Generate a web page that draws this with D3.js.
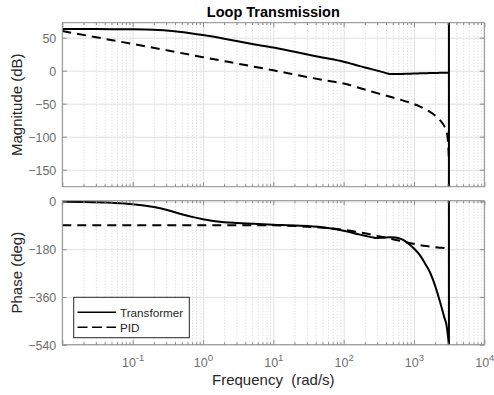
<!DOCTYPE html>
<html><head><meta charset="utf-8">
<script src="https://cdn.jsdelivr.net/npm/d3@7"></script>
<style>
body{margin:0;background:#fff}
text{font-family:"Liberation Sans",Arial,Helvetica,sans-serif}
</style>
</head><body>
<svg id="c" width="494" height="395"></svg>
<script>
// ---- data ----
const nyquist = 3141.6;
const tfFreq  = [0.01,0.02,0.05,0.1,0.2,0.3,0.5,0.7,1,2,3,5,10,20,50,100,170,200,265,300,350,450,550,650,785,1000,1220,1500,1680,2000,2345,2700,2900,3141.6];
const tfMag   = [63,63,62.9,62.7,62,61,58.5,56.5,54,48.5,45,40.5,35,28.6,20,13.5,6.9,4.9,1.6,0.1,-1.8,-4.9,-5.2,-5,-4.7,-4.3,-4,-3.8,-3.7,-3.5,-3.3,-3.1,-3,-3];
const tfPhase = [-1,-2,-5,-10,-21,-31,-48,-58,-67,-78,-81,-84,-87.6,-90.5,-97,-110,-125,-129,-136,-137.5,-137,-135,-136,-141,-153,-177,-203,-242,-266,-318,-378,-437,-466,-540];
const pidFreq  = [0.01,0.1,1,10,30,50,100,200,300,500,880,1200,1515,2000,2344,2700,2900,3050,3141.6];
const pidMag   = [60,40.5,20.5,0.5,-9.5,-14,-19.5,-28.6,-34,-40.7,-48.5,-54,-59.5,-68,-75,-84,-92,-108,-135];
const pidPhase = [-90,-90,-90,-90,-95,-99,-107,-120,-130,-142,-157,-164,-168,-172,-174,-175.5,-176.5,-177.5,-178];
const series = ["Transformer","PID"];
const magTicks = [-150,-100,-50,0,50];
const phaseTicks = [-540,-360,-180,0];
const freqLabelTicks = [0.1,1,10,100,1000,10000];

// ---- layout ----
const svg = d3.select("#c");
svg.append("rect").attr("width",494).attr("height",395).attr("fill","#fff");
const L = 62.3, R = 484.3;
const x = d3.scaleLog().domain([0.01,1e4]).range([L,R]);
const majors = [0.01,0.1,1,10,100,1000,10000];
const minors = [];
for (let d=-2; d<4; d++) for (let k=2;k<10;k++) minors.push(k*Math.pow(10,d));

const panels = [
  {y0:22.7, y1:186.7, domain:[-175.8,72.7], ticks:magTicks, data:[tfMag,pidMag], freqs:[tfFreq,pidFreq], label:"Magnitude (dB)"},
  {y0:200.7, y1:344.7, domain:[-540,3], ticks:phaseTicks, data:[tfPhase,pidPhase], freqs:[tfFreq,pidFreq], label:"Phase (deg)"}
];

const tickCol = "#8c8c8c", labCol = "#6e6e6e";
const FONT = '"Liberation Sans",Arial,sans-serif';

panels.forEach((p,i)=>{
  const y = d3.scaleLinear().domain(p.domain).range([p.y1,p.y0]);
  const h = p.y1-p.y0;
  const g = svg.append("g");
  const clipId = "clip"+i;
  svg.append("clipPath").attr("id",clipId).append("rect")
     .attr("x",L).attr("y",p.y0).attr("width",R-L).attr("height",h);

  g.append("g").attr("transform",`translate(0,${p.y1})`)
    .call(d3.axisBottom(x).tickValues(minors).tickSize(-h).tickFormat(""))
    .call(s=>{s.select(".domain").remove(); s.selectAll("line").attr("stroke","#c8c8c8").attr("stroke-dasharray","1,2").attr("stroke-width",0.8);});
  g.append("g").attr("transform",`translate(0,${p.y1})`)
    .call(d3.axisBottom(x).tickValues(majors).tickSize(-h).tickFormat(""))
    .call(s=>{s.select(".domain").remove(); s.selectAll("line").attr("stroke","#e0e0e0");});
  g.append("g").attr("transform",`translate(${L},0)`)
    .call(d3.axisLeft(y).tickValues(p.ticks).tickSize(-(R-L)).tickFormat(""))
    .call(s=>{s.select(".domain").remove(); s.selectAll("line").attr("stroke","#e0e0e0");});

  const line = d3.line().curve(d3.curveMonotoneX);
  p.data.forEach((vals,k)=>{
    const pts = vals.map((v,j)=>[x(p.freqs[k][j]), y(v)]);
    g.append("path").attr("d",line(pts)).attr("fill","none")
      .attr("stroke","#000").attr("stroke-width",2)
      .attr("stroke-dasharray", k===1 ? "9,6" : null)
      .attr("clip-path",`url(#${clipId})`);
  });

  g.append("line").attr("x1",x(nyquist)).attr("x2",x(nyquist))
    .attr("y1",p.y0).attr("y2",p.y1).attr("stroke","#000").attr("stroke-width",2);

  const styleTicks = s=>{s.select(".domain").remove(); s.selectAll("line").attr("stroke",tickCol);};
  g.append("g").attr("transform",`translate(0,${p.y1})`)
    .call(d3.axisBottom(x).tickValues(minors).tickSize(-2.5).tickFormat("")).call(styleTicks);
  g.append("g").attr("transform",`translate(0,${p.y1})`)
    .call(d3.axisBottom(x).tickValues(majors).tickSize(-4.5).tickFormat("")).call(styleTicks);
  g.append("g").attr("transform",`translate(0,${p.y0})`)
    .call(d3.axisTop(x).tickValues(minors).tickSize(-2.5).tickFormat("")).call(styleTicks);
  g.append("g").attr("transform",`translate(0,${p.y0})`)
    .call(d3.axisTop(x).tickValues(majors).tickSize(-4.5).tickFormat("")).call(styleTicks);
  g.append("g").attr("transform",`translate(${R},0)`)
    .call(d3.axisRight(y).tickValues(p.ticks).tickSize(-4.5).tickFormat("")).call(styleTicks);
  g.append("g").attr("transform",`translate(${L},0)`)
    .call(d3.axisLeft(y).tickValues(p.ticks).tickSizeInner(-4.5).tickSizeOuter(0).tickPadding(6).tickFormat(d3.format("d")))
    .call(styleTicks)
    .call(s=>s.selectAll("text").attr("fill",labCol).style("font-size","12.5px").style("font-family",FONT).attr("dy","0.36em"));

  g.append("rect").attr("x",L).attr("y",p.y0).attr("width",R-L).attr("height",h)
    .attr("fill","none").attr("stroke",tickCol).attr("stroke-width",1);

  svg.append("text").attr("transform",`translate(22,${(p.y0+p.y1)/2}) rotate(-90)`)
    .attr("text-anchor","middle").style("font-size","15px").attr("fill","#262626").text(p.label);

  if (i===1) {
    const ax = g.append("g").attr("transform",`translate(0,${p.y1})`)
      .call(d3.axisBottom(x).tickValues(freqLabelTicks).tickSize(0).tickPadding(13).tickFormat(""));
    ax.select(".domain").remove();
    ax.selectAll("text").each(function(d){
      const t = d3.select(this).attr("fill",labCol).style("font-size","12.5px").style("font-family",FONT);
      t.text(null);
      t.append("tspan").text("10");
      t.append("tspan").style("font-size","9.5px").attr("dy","-0.55em").text(String(Math.round(Math.log10(d))));
    });
  }
});

svg.append("text").attr("x",(L+R)/2).attr("y",16.5).attr("text-anchor","middle")
  .style("font-size","14.5px").attr("font-weight","bold").attr("fill","#000").text("Loop Transmission");
svg.append("text").attr("x",(L+R)/2).attr("y",385).attr("text-anchor","middle")
  .style("font-size","15px").attr("fill","#262626").style("white-space","pre").text("Frequency  (rad/s)");

const lg = svg.append("g");
lg.append("rect").attr("x",73.7).attr("y",297.3).attr("width",115.6).attr("height",40.4)
  .attr("fill","#fff").attr("stroke","#262626").attr("stroke-width",1);
series.forEach((s,k)=>{
  const yy = 312.3 + k*15;
  lg.append("line").attr("x1",77.5).attr("x2",116).attr("y1",yy).attr("y2",yy)
    .attr("stroke","#000").attr("stroke-width",1.5).attr("stroke-dasharray",k===1?"10,4.5":null);
  lg.append("text").attr("x",120).attr("y",yy+4.2).style("font-size","11.7px").attr("fill","#262626").text(s);
});
</script>
</body></html>
